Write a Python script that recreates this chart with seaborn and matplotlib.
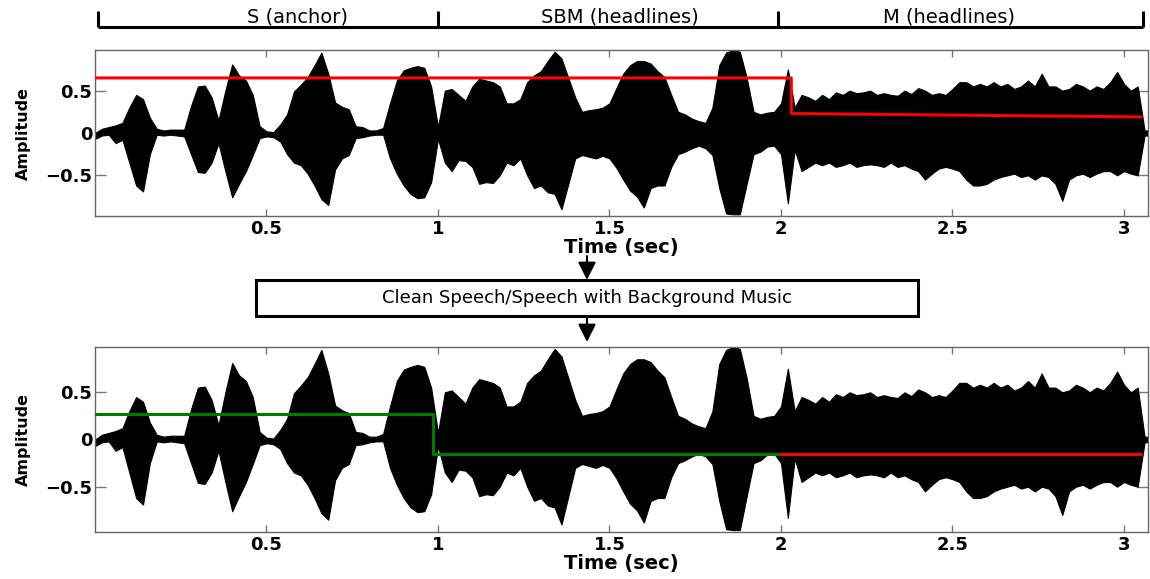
import numpy as np
import pandas as pd
import matplotlib
matplotlib.use("Agg")
import matplotlib.pyplot as plt
import seaborn as sns
from matplotlib.transforms import blended_transform_factory
from matplotlib.lines import Line2D
from matplotlib.patches import FancyArrowPatch, Rectangle

# ---------------- data ----------------
# time samples of the waveform envelope (sec)
env_t = [0.00, 0.02, 0.04, 0.06, 0.08, 0.10, 0.12, 0.14, 0.16, 0.18,
         0.20, 0.22, 0.24, 0.26, 0.28, 0.30, 0.32, 0.34, 0.36, 0.38,
         0.40, 0.42, 0.44, 0.46, 0.48, 0.50, 0.52, 0.54, 0.56, 0.58,
         0.60, 0.62, 0.64, 0.66, 0.68, 0.70, 0.72, 0.74, 0.76, 0.78,
         0.80, 0.82, 0.84, 0.86, 0.88, 0.90, 0.92, 0.94, 0.96, 0.98,
         1.00, 1.02, 1.04, 1.06, 1.08, 1.10, 1.12, 1.14, 1.16, 1.18,
         1.20, 1.22, 1.24, 1.26, 1.28, 1.30, 1.32, 1.34, 1.36, 1.38,
         1.40, 1.42, 1.44, 1.46, 1.48, 1.50, 1.52, 1.54, 1.56, 1.58,
         1.60, 1.62, 1.64, 1.66, 1.68, 1.70, 1.72, 1.74, 1.76, 1.78,
         1.80, 1.82, 1.84, 1.86, 1.88, 1.90, 1.92, 1.94, 1.96, 1.98,
         2.00, 2.02, 2.04, 2.06, 2.08, 2.10, 2.12, 2.14, 2.16, 2.18,
         2.20, 2.22, 2.24, 2.26, 2.28, 2.30, 2.32, 2.34, 2.36, 2.38,
         2.40, 2.42, 2.44, 2.46, 2.48, 2.50, 2.52, 2.54, 2.56, 2.58,
         2.60, 2.62, 2.64, 2.66, 2.68, 2.70, 2.72, 2.74, 2.76, 2.78,
         2.80, 2.82, 2.84, 2.86, 2.88, 2.90, 2.92, 2.94, 2.96, 2.98,
         3.00, 3.02, 3.04, 3.06, 3.08]

env_upper = [0.00, 0.05, 0.07, 0.09, 0.12, 0.30, 0.45, 0.40, 0.18, 0.05,
             0.03, 0.04, 0.04, 0.04, 0.32, 0.55, 0.56, 0.42, 0.15, 0.50,
             0.81, 0.68, 0.62, 0.45, 0.08, 0.02, 0.01, 0.10, 0.22, 0.49,
             0.57, 0.66, 0.80, 0.95, 0.70, 0.36, 0.31, 0.28, 0.08, 0.07,
             0.03, 0.03, 0.06, 0.35, 0.62, 0.74, 0.77, 0.79, 0.77, 0.55,
             0.07, 0.50, 0.52, 0.45, 0.38, 0.55, 0.64, 0.62, 0.60, 0.55,
             0.35, 0.35, 0.40, 0.60, 0.68, 0.73, 0.85, 0.96, 0.88, 0.65,
             0.42, 0.25, 0.27, 0.28, 0.30, 0.35, 0.53, 0.70, 0.80, 0.85,
             0.85, 0.82, 0.73, 0.66, 0.45, 0.25, 0.22, 0.17, 0.14, 0.12,
             0.30, 0.80, 0.95, 0.98, 0.96, 0.65, 0.25, 0.22, 0.24, 0.25,
             0.35, 0.75, 0.30, 0.45, 0.42, 0.38, 0.45, 0.40, 0.48, 0.45,
             0.50, 0.47, 0.48, 0.50, 0.45, 0.47, 0.45, 0.44, 0.50, 0.46,
             0.53, 0.50, 0.45, 0.47, 0.45, 0.52, 0.60, 0.60, 0.55, 0.58,
             0.55, 0.60, 0.55, 0.58, 0.52, 0.55, 0.62, 0.55, 0.70, 0.55,
             0.55, 0.50, 0.52, 0.58, 0.55, 0.50, 0.55, 0.52, 0.60, 0.72,
             0.58, 0.50, 0.55, 0.03, 0.03]

env_lower = [-0.07, -0.03, -0.02, -0.12, -0.08, -0.35, -0.62, -0.69, -0.25, -0.02,
             -0.03, -0.02, -0.03, -0.04, -0.25, -0.46, -0.47, -0.35, -0.12, -0.45,
             -0.76, -0.60, -0.45, -0.26, -0.06, -0.04, -0.05, -0.10, -0.25, -0.35,
             -0.38, -0.48, -0.62, -0.78, -0.85, -0.43, -0.30, -0.26, -0.06, -0.05,
             -0.03, -0.02, -0.02, -0.30, -0.48, -0.62, -0.72, -0.77, -0.76, -0.58,
             -0.07, -0.35, -0.45, -0.32, -0.33, -0.40, -0.60, -0.58, -0.59, -0.50,
             -0.35, -0.38, -0.30, -0.50, -0.65, -0.62, -0.70, -0.72, -0.90, -0.60,
             -0.30, -0.26, -0.28, -0.30, -0.27, -0.30, -0.41, -0.55, -0.68, -0.75,
             -0.88, -0.65, -0.62, -0.62, -0.40, -0.25, -0.22, -0.18, -0.15, -0.18,
             -0.26, -0.65, -0.95, -0.96, -0.96, -0.60, -0.25, -0.22, -0.16, -0.15,
             -0.25, -0.83, -0.20, -0.45, -0.40, -0.35, -0.38, -0.35, -0.40, -0.38,
             -0.35, -0.40, -0.38, -0.37, -0.38, -0.40, -0.35, -0.40, -0.38, -0.42,
             -0.45, -0.55, -0.48, -0.42, -0.40, -0.42, -0.45, -0.55, -0.62, -0.62,
             -0.60, -0.55, -0.52, -0.50, -0.48, -0.52, -0.50, -0.55, -0.50, -0.52,
             -0.60, -0.80, -0.55, -0.50, -0.48, -0.52, -0.48, -0.45, -0.45, -0.50,
             -0.45, -0.48, -0.50, -0.03, -0.03]

# decision curve, top panel (red)
top_curve_t = [0.00, 2.03, 2.03, 3.05]
top_curve_v = [0.65, 0.65, 0.23, 0.19]

# classification, bottom panel
speech_t = [0.00, 0.985, 0.985, 2.00]     # green part
speech_v = [0.27, 0.27, -0.15, -0.15]
music_t = [2.00, 3.05]                     # red part
music_v = [-0.15, -0.15]

# segment annotation at top
segment_edges = [0.01, 1.00, 1.99, 3.055]
segment_label_pos = [0.59, 1.53, 2.49]
segment_labels = ["S (anchor)", "SBM (headlines)", "M (headlines)"]

x_ticks = [0.5, 1, 1.5, 2, 2.5, 3]
x_tick_labels = ["0.5", "1", "1.5", "2", "2.5", "3"]
y_ticks = [-0.5, 0, 0.5]
y_tick_labels = ["\u22120.5", "0", "0.5"]

box_text = "Clean Speech/Speech with Background Music"

# ---------------- figure ----------------
sns.set_theme(style="white")
plt.rcParams["font.family"] = ["DejaVu Sans"]
plt.rcParams["text.color"] = "black"
plt.rcParams["axes.labelcolor"] = "black"
plt.rcParams["xtick.color"] = "black"
plt.rcParams["ytick.color"] = "black"

W, H = 1150, 579
fig = plt.figure(figsize=(W / 100, H / 100), dpi=100)
fig.patch.set_facecolor("white")


def px_rect(x0, y0, x1, y1):
    return [x0 / W, 1 - y1 / H, (x1 - x0) / W, (y1 - y0) / H]


ax1 = fig.add_axes(px_rect(95, 50, 1148, 216))
ax2 = fig.add_axes(px_rect(95, 347, 1148, 532))

for ax in (ax1, ax2):
    ax.fill_between(env_t, env_lower, env_upper, color="black",
                    linewidth=0.8, edgecolor="black", zorder=2)
    ax.set_xlim(0, 3.07)
    ax.set_ylim(-0.98, 0.98)
    ax.set_xticks(x_ticks)
    ax.set_xticklabels(x_tick_labels, fontweight="bold", fontsize=13,
                       color="black")
    ax.set_yticks(y_ticks)
    ax.set_yticklabels(y_tick_labels, fontweight="bold", fontsize=13,
                       color="black")
    ax.tick_params(axis="x", direction="in", length=5, width=1,
                   color="#777777", labelcolor="black",
                   top=True, bottom=True, pad=3)
    ax.tick_params(axis="y", direction="in", length=8, width=1,
                   color="#777777", labelcolor="black",
                   left=True, right=True, pad=2)
    for s in ax.spines.values():
        s.set_color("#666666")
        s.set_linewidth(1.0)
    ax.set_xlabel("Time (sec)", fontweight="bold", fontsize=14, labelpad=0,
                  color="black")
    ax.set_ylabel("Amplitude", fontweight="bold", fontsize=11.5, labelpad=10,
                  color="black")
    ax.set_facecolor("white")

sns.lineplot(x=top_curve_t, y=top_curve_v, color="red", linewidth=2.2,
             estimator=None, sort=False, ax=ax1, zorder=3)
sns.lineplot(x=speech_t, y=speech_v, color="#007a00", linewidth=2.2,
             estimator=None, sort=False, ax=ax2, zorder=3)
sns.lineplot(x=music_t, y=music_v, color="red", linewidth=2.2,
             estimator=None, sort=False, ax=ax2, zorder=3)

# segment bracket
btr = blended_transform_factory(ax1.transData, fig.transFigure)
yb = 1 - 27 / H
yt = 1 - 11 / H
fig.add_artist(Line2D([segment_edges[0], segment_edges[-1]], [yb, yb],
                      transform=btr, color="black", lw=2.2,
                      solid_capstyle="butt"))
for e in segment_edges:
    fig.add_artist(Line2D([e, e], [yb, yt], transform=btr, color="black",
                          lw=2.2, solid_capstyle="butt"))
for xp, lab in zip(segment_label_pos, segment_labels):
    fig.text(xp, 1 - 17 / H, lab, transform=btr, ha="center", va="center",
             fontsize=14, color="black")

# box with text
fig.add_artist(Rectangle((256 / W, 1 - 316 / H), (918 - 256) / W, 36 / H,
                         transform=fig.transFigure, facecolor="white",
                         edgecolor="black", lw=2.2))
fig.text(587 / W, 1 - 298 / H, box_text, ha="center", va="center",
         fontsize=13, color="black")

# arrows
for y0, y1 in [(256, 280), (318, 342)]:
    fig.add_artist(FancyArrowPatch((587 / W, 1 - y0 / H), (587 / W, 1 - y1 / H),
                                   transform=fig.transFigure,
                                   arrowstyle="-|>,head_length=0.6,head_width=0.3",
                                   mutation_scale=18, lw=1.5, color="black",
                                   shrinkA=0, shrinkB=0))

fig.savefig("out.png", dpi=100, facecolor="white")
